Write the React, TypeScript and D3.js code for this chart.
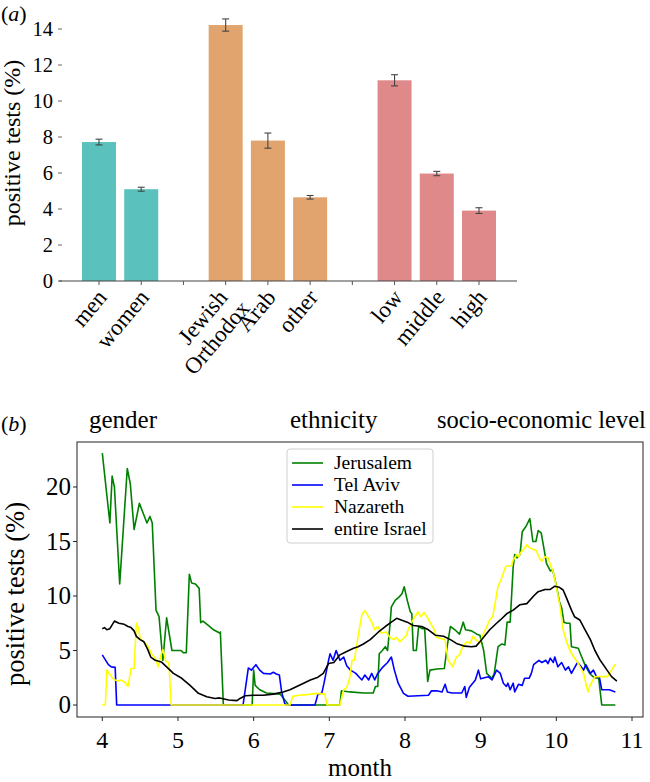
import React from 'react';
import * as d3 from 'd3';

// ---------- Panel (a) data ----------
const categories = ['men', 'women', '', 'Jewish\nOrthodox', 'Arab', 'other', '', 'low', 'middle', 'high'];
const rates: (number | null)[] = [7.72, 5.1, null, 14.22, 7.8, 4.65, null, 11.15, 5.97, 3.91];
const errors: (number | null)[] = [0.16, 0.11, null, 0.34, 0.42, 0.1, null, 0.31, 0.12, 0.16];
const groupOf = [0, 0, -1, 1, 1, 1, -1, 2, 2, 2];
const groupColors = ['#5bc1bc', '#e1a46f', '#e0898b'];
const yTicksA = [0, 2, 4, 6, 8, 10, 12, 14];
const groupTitles = ['gender', 'ethnicity', 'socio-economic level'];

// ---------- Panel (b) data ----------
const jerusalem: [number, number][] = [
  [4.00, 23.1], [4.10, 16.7], [4.13, 21.0], [4.16, 20.0], [4.23, 11.1], [4.33, 21.7], [4.37, 20.3], [4.42, 16.1],
  [4.49, 18.5], [4.59, 16.7], [4.63, 17.3], [4.66, 16.7], [4.71, 8.7], [4.75, 8.1], [4.80, 4.1], [4.85, 8.0],
  [4.92, 5.0], [5.04, 5.0], [5.07, 4.8], [5.11, 4.8], [5.15, 12.0], [5.18, 11.2], [5.23, 11.1], [5.28, 10.7],
  [5.30, 7.55], [5.33, 7.7], [5.40, 7.3], [5.47, 6.9], [5.55, 6.6], [5.56, 6.7], [5.60, 0], [5.98, 0],
  [6.00, 3.2], [6.02, 1.8], [6.08, 1.4], [6.17, 1.1], [6.35, 1.0], [6.44, 0.2], [6.46, 0], [7.14, 0],
  [7.16, 1.3], [7.27, 1.2], [7.45, 1.1], [7.58, 1.1], [7.61, 1.7], [7.64, 1.7], [7.66, 4.7], [7.70, 5.0],
  [7.74, 5.35], [7.77, 5.0], [7.80, 7.2], [7.82, 9.0], [7.87, 9.6], [7.92, 9.9], [7.96, 10.2], [7.99, 10.85],
  [8.03, 9.6], [8.07, 8.55], [8.09, 8.4], [8.11, 5.0], [8.15, 5.0], [8.18, 7.2], [8.23, 7.0], [8.26, 7.0],
  [8.30, 2.15], [8.33, 3.2], [8.42, 3.3], [8.52, 3.35], [8.56, 5.5], [8.60, 7.2], [8.66, 6.9], [8.72, 6.5],
  [8.77, 7.6], [8.80, 6.9], [8.88, 6.8], [8.95, 6.5], [8.99, 6.4], [9.04, 5.0], [9.08, 2.9], [9.15, 2.45],
  [9.18, 2.9], [9.23, 5.35], [9.28, 5.6], [9.32, 5.5], [9.35, 7.6], [9.39, 7.6], [9.43, 12.7], [9.45, 13.8],
  [9.48, 13.5], [9.52, 13.8], [9.55, 15.9], [9.60, 16.4], [9.65, 17.1], [9.69, 15.0], [9.73, 15.0], [9.76, 16.0],
  [9.80, 15.8], [9.84, 14.2], [9.87, 13.0], [9.92, 12.3], [9.95, 12.4], [9.98, 11.6], [10.01, 10.6], [10.04, 9.5],
  [10.07, 8.9], [10.10, 7.6], [10.14, 7.5], [10.18, 7.5], [10.20, 5.35], [10.29, 5.2], [10.33, 4.5], [10.39, 3.5],
  [10.44, 2.9], [10.50, 2.5], [10.56, 2.45], [10.60, 0], [10.78, 0],
];

const telAviv: [number, number][] = [
  [4.00, 4.6], [4.08, 3.7], [4.12, 3.5], [4.17, 3.45], [4.19, 0], [5.86, 0], [5.93, 3.4], [5.97, 3.2],
  [6.03, 3.7], [6.08, 3.2], [6.13, 2.9], [6.22, 2.85], [6.26, 3.0], [6.30, 2.85], [6.34, 2.75], [6.37, 1.2],
  [6.41, 0.15], [6.43, 0], [6.81, 0], [6.85, 1.0], [6.90, 1.07], [6.93, 2.0], [6.99, 4.1], [7.01, 4.7],
  [7.05, 4.1], [7.09, 5.0], [7.14, 4.1], [7.19, 4.4], [7.23, 3.6], [7.28, 3.2], [7.35, 2.9], [7.43, 2.3],
  [7.47, 2.75], [7.52, 2.3], [7.56, 2.9], [7.60, 2.3], [7.64, 2.9], [7.71, 3.5], [7.77, 3.9], [7.82, 4.4],
  [7.86, 3.2], [7.91, 2.0], [7.98, 1.07], [8.04, 0.8], [8.31, 0.9], [8.35, 1.3], [8.42, 1.3], [8.49, 1.2],
  [8.53, 1.9], [8.56, 1.2], [8.62, 1.1], [8.75, 1.1], [8.79, 1.7], [8.81, 0.7], [8.85, 1.6], [8.93, 2.3],
  [8.97, 3.2], [9.00, 2.4], [9.10, 2.6], [9.15, 2.3], [9.21, 3.2], [9.26, 2.9], [9.30, 2.0], [9.34, 1.7],
  [9.36, 2.0], [9.39, 1.4], [9.43, 2.0], [9.45, 1.2], [9.50, 1.9], [9.55, 1.8], [9.58, 2.45], [9.64, 2.45],
  [9.67, 2.9], [9.70, 3.7], [9.77, 4.1], [9.81, 3.9], [9.86, 4.1], [9.89, 3.8], [9.92, 4.3], [9.96, 3.9],
  [9.98, 4.4], [10.02, 3.5], [10.07, 3.9], [10.12, 3.2], [10.16, 3.5], [10.20, 2.9], [10.23, 3.3], [10.28, 3.9],
  [10.33, 3.5], [10.36, 3.2], [10.39, 3.7], [10.45, 2.9], [10.49, 3.2], [10.53, 2.6], [10.57, 2.5], [10.60, 1.4],
  [10.70, 1.4], [10.78, 1.2],
];

const nazareth: [number, number][] = [
  [4.00, 0], [4.04, 0], [4.06, 3.2], [4.10, 2.8], [4.15, 2.35], [4.21, 2.2], [4.24, 2.3], [4.27, 2.2],
  [4.31, 2.0], [4.34, 1.7], [4.38, 3.35], [4.42, 3.35], [4.45, 7.5], [4.48, 7.0], [4.50, 6.1], [4.55, 5.8],
  [4.60, 5.4], [4.65, 4.7], [4.70, 4.3], [4.74, 3.5], [4.78, 4.7], [4.80, 5.1], [4.84, 4.0], [4.88, 3.9],
  [4.91, 0], [6.48, 0], [6.52, 0.8], [6.60, 0.9], [6.70, 0.95], [6.83, 1.07], [6.94, 1.0], [6.97, 0],
  [7.14, 0], [7.19, 1.4], [7.23, 1.6], [7.27, 2.5], [7.30, 4.1], [7.33, 4.1], [7.36, 5.35], [7.38, 6.3],
  [7.43, 8.3], [7.47, 8.65], [7.51, 8.2], [7.56, 7.6], [7.60, 6.9], [7.64, 7.2], [7.69, 6.6], [7.75, 6.7],
  [7.79, 6.3], [7.85, 6.0], [7.89, 6.2], [7.93, 5.8], [7.98, 6.1], [8.02, 6.4], [8.04, 6.9], [8.09, 7.6],
  [8.13, 8.1], [8.17, 8.55], [8.21, 8.1], [8.25, 8.5], [8.29, 8.1], [8.33, 7.6], [8.38, 7.0], [8.42, 6.2],
  [8.47, 6.1], [8.53, 6.0], [8.57, 4.1], [8.63, 3.5], [8.68, 4.4], [8.72, 4.6], [8.77, 5.5], [8.82, 5.8],
  [8.86, 5.65], [8.90, 6.3], [8.95, 5.9], [8.99, 5.7], [9.04, 6.6], [9.08, 7.2], [9.12, 7.8], [9.16, 8.1],
  [9.18, 8.9], [9.23, 10.9], [9.27, 11.5], [9.30, 12.1], [9.33, 12.7], [9.35, 12.75], [9.41, 12.8], [9.43, 13.3],
  [9.48, 13.8], [9.50, 13.6], [9.53, 14.0], [9.56, 14.2], [9.61, 14.7], [9.65, 14.4], [9.69, 14.3], [9.73, 14.2],
  [9.78, 13.45], [9.81, 13.2], [9.85, 13.6], [9.89, 13.5], [9.93, 12.7], [9.96, 12.2], [10.00, 10.85], [10.05, 9.0],
  [10.09, 6.9], [10.14, 5.7], [10.18, 5.0], [10.22, 4.5], [10.29, 3.8], [10.36, 2.9], [10.40, 1.7], [10.42, 1.2],
  [10.44, 1.7], [10.47, 2.1], [10.51, 2.6], [10.58, 2.6], [10.68, 2.6], [10.70, 2.9], [10.73, 3.2], [10.78, 3.75],
];

const entireIsrael: [number, number][] = [
  [4.00, 7.0], [4.03, 7.1], [4.06, 6.9], [4.10, 7.0], [4.16, 7.7], [4.22, 7.5], [4.29, 7.4], [4.34, 7.2],
  [4.38, 7.1], [4.42, 6.8], [4.45, 6.3], [4.50, 6.0], [4.55, 5.8], [4.60, 5.1], [4.64, 4.4], [4.70, 4.1],
  [4.78, 3.95], [4.85, 3.5], [4.94, 2.9], [5.05, 2.45], [5.16, 1.8], [5.27, 1.07], [5.38, 0.76], [5.49, 0.6],
  [5.55, 0.65], [5.67, 0.46], [5.78, 0.4], [5.82, 0.6], [5.89, 0.85], [6.00, 0.9], [6.13, 0.9], [6.26, 1.0],
  [6.39, 1.2], [6.48, 1.4], [6.57, 1.7], [6.66, 2.0], [6.75, 2.3], [6.85, 2.55], [6.92, 2.9], [6.99, 3.8],
  [7.06, 3.9], [7.14, 4.6], [7.23, 4.9], [7.32, 5.2], [7.38, 5.35], [7.45, 5.6], [7.54, 6.0], [7.65, 6.7],
  [7.74, 7.2], [7.82, 7.6], [7.89, 7.95], [7.95, 7.8], [8.03, 7.6], [8.11, 7.3], [8.22, 7.2], [8.31, 6.9],
  [8.40, 6.4], [8.51, 6.3], [8.60, 6.0], [8.68, 5.65], [8.79, 5.4], [8.88, 5.35], [8.94, 5.4], [8.99, 5.8],
  [9.06, 6.4], [9.12, 6.9], [9.21, 7.5], [9.26, 7.8], [9.35, 8.4], [9.43, 8.7], [9.52, 9.2], [9.61, 9.3],
  [9.70, 10.0], [9.76, 10.4], [9.85, 10.6], [9.92, 10.6], [9.98, 10.9], [10.04, 10.8], [10.09, 10.55], [10.13, 9.9],
  [10.20, 8.7], [10.24, 8.1], [10.31, 7.8], [10.38, 6.9], [10.45, 6.0], [10.51, 5.0], [10.58, 4.1], [10.67, 3.2],
  [10.73, 2.6], [10.80, 2.2],
];

const seriesNames = ['Jerusalem', 'Tel Aviv', 'Nazareth', 'entire Israel'];
const seriesColors = ['#008000', '#0000ff', '#ffff00', '#000000'];
const seriesData = [jerusalem, telAviv, nazareth, entireIsrael];
const xTicksB = [4, 5, 6, 7, 8, 9, 10, 11];
const yTicksB = [0, 5, 10, 15, 20];

const FONT = '"Liberation Serif", "Times New Roman", "DejaVu Serif", serif';

export default function App() {
  // panel (a) scales
  const xA = d3.scaleLinear().domain([0, 9]).range([99, 479]);
  const yA = d3.scaleLinear().domain([0, 14]).range([281, 29]);
  const barW = 34;
  const labelAngle = -50;

  // panel (b) scales
  const xB = d3.scaleLinear().domain([4, 11]).range([102.3, 632]);
  const yB = d3.scaleLinear().domain([0, 20]).range([705, 487]);
  const box = { x0: 77, x1: 643, y0: 442, y1: 717 };
  const line = d3.line<[number, number]>().x((d) => xB(d[0])).y((d) => yB(d[1]));

  return (
    <svg width={650} height={782} style={{ position: 'absolute', left: 0, top: 0, background: '#fff', fontFamily: FONT }}
      fontFamily={FONT}>
      <rect x={0} y={0} width={650} height={782} fill="#fff" />
      {/* ---------------- Panel (a) ---------------- */}
      <text x={1} y={21} fontSize={22}>(<tspan fontStyle="italic">a</tspan>)</text>
      <text transform="translate(20,143) rotate(-90)" textAnchor="middle" fontSize={24}>positive tests (%)</text>
      {yTicksA.map((t) => (
        <g key={'ya' + t}>
          <line x1={58} x2={62} y1={yA(t)} y2={yA(t)} stroke="#666" strokeWidth={1} />
          <text x={53} y={yA(t)} dy="0.33em" textAnchor="end" fontSize={20.5}>{t}</text>
        </g>
      ))}
      {rates.map((v, i) => v == null ? null : (
        <rect key={'bar' + i} x={xA(i) - barW / 2} y={yA(v)} width={barW} height={yA(0) - yA(v)}
          fill={groupColors[groupOf[i]]} />
      ))}
      {rates.map((v, i) => {
        if (v == null) return null;
        const e = errors[i] as number;
        const cx = xA(i);
        return (
          <g key={'err' + i} stroke="#444" strokeWidth={1.1}>
            <line x1={cx} x2={cx} y1={yA(v - e)} y2={yA(v + e)} />
            <line x1={cx - 3.5} x2={cx + 3.5} y1={yA(v - e)} y2={yA(v - e)} />
            <line x1={cx - 3.5} x2={cx + 3.5} y1={yA(v + e)} y2={yA(v + e)} />
          </g>
        );
      })}
      <line x1={59} x2={517} y1={yA(0)} y2={yA(0)} stroke="#444" strokeWidth={1.2} />
      {categories.map((c, i) => (
        <line key={'xt' + i} x1={xA(i)} x2={xA(i)} y1={yA(0)} y2={yA(0) + 4} stroke="#555" strokeWidth={1} />
      ))}
      {categories.map((c, i) => {
        if (!c) return null;
        const lines = c.split('\n');
        if (lines.length === 1) {
          return (
            <text key={'xl' + i} transform={`translate(${xA(i) + 9},${298}) rotate(${labelAngle})`} textAnchor="end" fontSize={23}>
              {c}
            </text>
          );
        }
        return (
          <text key={'xl' + i} transform={`translate(${xA(i) + 3},${298}) rotate(${labelAngle})`} textAnchor="end" fontSize={23}>
            <tspan x={0} y={0}>{lines[0]}</tspan>
            <tspan x={6} y={24}>{lines[1]}</tspan>
          </text>
        );
      })}

      {/* group titles */}
      <text x={89} y={428} fontSize={25}>{groupTitles[0]}</text>
      <text x={290} y={428} fontSize={25}>{groupTitles[1]}</text>
      <text x={437} y={428} fontSize={24.5}>{groupTitles[2]}</text>

      {/* ---------------- Panel (b) ---------------- */}
      <text x={1} y={431} fontSize={22}>(<tspan fontStyle="italic">b</tspan>)</text>
      <defs>
        <clipPath id="clipB">
          <rect x={box.x0} y={box.y0} width={box.x1 - box.x0} height={box.y1 - box.y0} />
        </clipPath>
      </defs>
      <g clipPath="url(#clipB)">
        {seriesData.map((s, k) => (
          <path key={'ser' + k} d={line(s) || ''} fill="none" stroke={seriesColors[k]} strokeWidth={1.6}
            strokeLinejoin="round" />
        ))}
      </g>
      <rect x={box.x0} y={box.y0} width={box.x1 - box.x0} height={box.y1 - box.y0} fill="none" stroke="#222" strokeWidth={1} />
      {xTicksB.map((t) => (
        <g key={'xb' + t}>
          <line x1={xB(t)} x2={xB(t)} y1={box.y1} y2={box.y1 + 4} stroke="#222" strokeWidth={1} />
          <text x={xB(t)} y={748} textAnchor="middle" fontSize={24}>{t}</text>
        </g>
      ))}
      {yTicksB.map((t) => (
        <g key={'yb' + t}>
          <line x1={box.x0 - 4} x2={box.x0} y1={yB(t)} y2={yB(t)} stroke="#222" strokeWidth={1} />
          <text x={71} y={yB(t)} dy="0.33em" textAnchor="end" fontSize={25}>{t}</text>
        </g>
      ))}
      <text x={(box.x0 + box.x1) / 2} y={776} textAnchor="middle" fontSize={25}>month</text>
      <text transform="translate(24,594) rotate(-90)" textAnchor="middle" fontSize={26.5}>positive tests (%)</text>

      {/* legend */}
      <rect x={287} y={449} width={146} height={94} rx={3} fill="#fff" fillOpacity={0.85} stroke="#d0d0d0" strokeWidth={1} />
      {seriesNames.map((n, k) => (
        <g key={'lg' + k}>
          <line x1={292} x2={323} y1={463 + k * 22} y2={463 + k * 22} stroke={seriesColors[k]} strokeWidth={1.6} />
          <text x={334} y={463 + k * 22} dy="0.33em" fontSize={19.5}>{n}</text>
        </g>
      ))}
    </svg>
  );
}
